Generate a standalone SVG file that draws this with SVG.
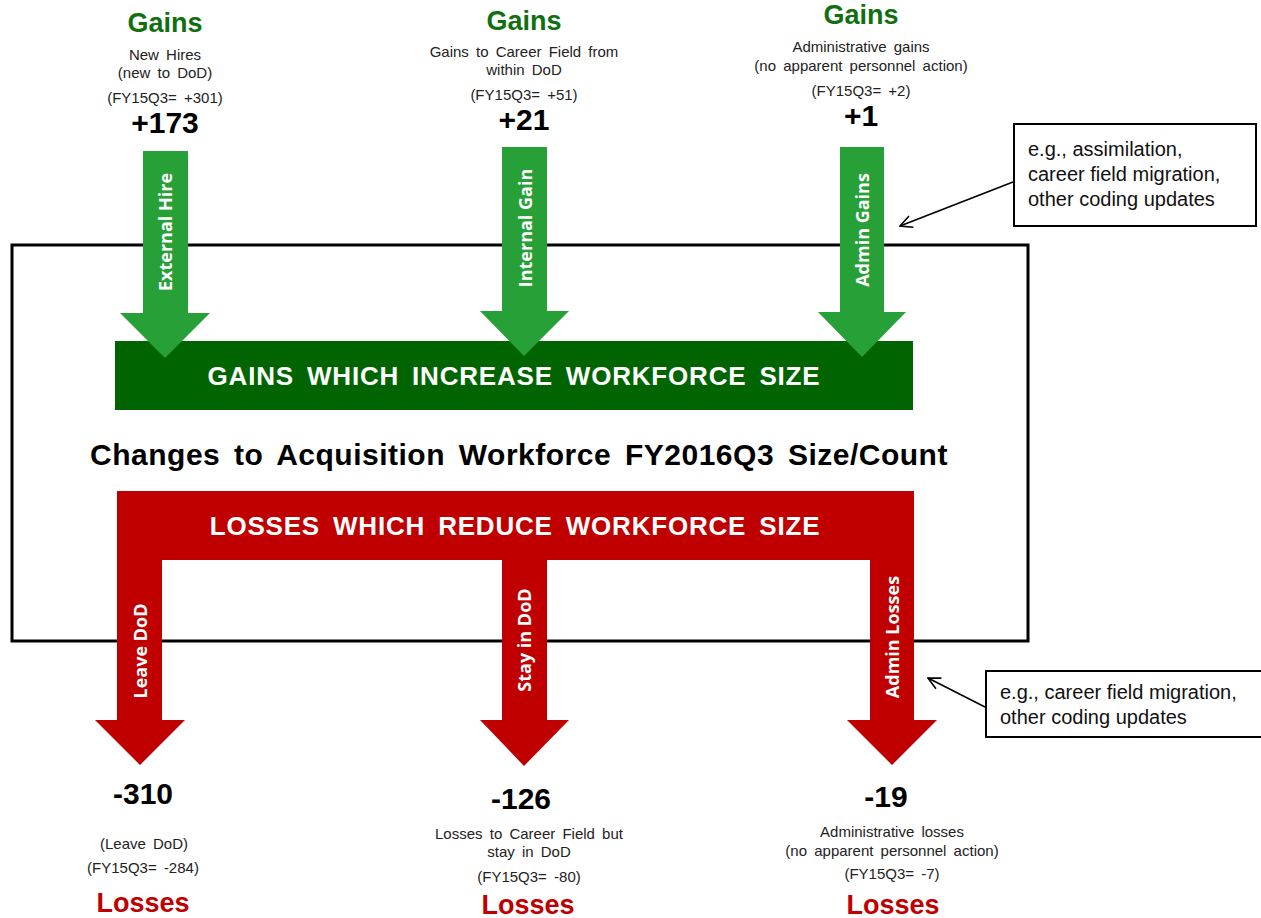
<svg xmlns="http://www.w3.org/2000/svg" width="1261" height="918" viewBox="0 0 1261 918">
<style>
.gh{font-family:"Liberation Sans",Arial,sans-serif;font-weight:bold;font-size:27px;fill:#107010;text-anchor:middle}
.lh{font-family:"Liberation Sans",Arial,sans-serif;font-weight:bold;font-size:27px;fill:#c00000;text-anchor:middle}
.sm{font-family:"Liberation Sans",Arial,sans-serif;font-size:15px;fill:#222;text-anchor:middle;word-spacing:3px}
.num{font-family:"Liberation Sans",Arial,sans-serif;font-weight:bold;font-size:30px;fill:#000;text-anchor:middle}
.lbl{font-family:"Open Sans","Liberation Sans",sans-serif;font-weight:bold;font-size:18px;fill:#fff;text-anchor:middle;dominant-baseline:central}
.bar{font-family:"Liberation Sans",Arial,sans-serif;font-weight:bold;font-size:26px;fill:#fff;text-anchor:middle;word-spacing:5px;letter-spacing:0.8px}
.co{font-family:"Liberation Sans",Arial,sans-serif;font-size:20px;fill:#111}
.ga{fill:#28a038}
.rd{fill:#c00000}
</style>
<defs>
<marker id="open" markerWidth="14" markerHeight="14" refX="13" refY="7" orient="auto" markerUnits="userSpaceOnUse">
<path d="M1,1 L13,7 L1,13" fill="none" stroke="#000" stroke-width="1.6"/>
</marker>
</defs>
<rect width="1261" height="918" fill="#fff"/>
<g id="frame">
<rect x="12" y="245" width="1016" height="396" fill="none" stroke="#000" stroke-width="3"/>
</g>
<g id="gain-bar">
<rect x="115" y="341" width="798" height="69" fill="#006400"/>
<text class="bar" x="514" y="385">GAINS WHICH INCREASE WORKFORCE SIZE</text>
</g>
<g id="external-hire">
<polygon class="ga" points="143,151 188,151 188,313 210,313 165,358 120,313 143,313"/>
<text class="lbl" transform="translate(165,232) rotate(-90)">External Hire</text>
</g>
<g id="internal-gain">
<polygon class="ga" points="502,147 547,147 547,311 569,311 524,356 480,311 502,311"/>
<text class="lbl" transform="translate(525,228) rotate(-90)">Internal Gain</text>
</g>
<g id="admin-gains">
<polygon class="ga" points="840,147 884,147 884,312 906,312 862,357 818,312 840,312"/>
<text class="lbl" transform="translate(862,230) rotate(-90)">Admin Gains</text>
</g>
<g id="title">
<text x="519" y="465" style="font-family:'Liberation Sans',Arial,sans-serif;font-weight:bold;font-size:30px;fill:#000;text-anchor:middle;word-spacing:5px;letter-spacing:0.5px">Changes to Acquisition Workforce FY2016Q3 Size/Count</text>
</g>
<g id="loss-bar">
<path class="rd" d="M117,491 H914 V720 H937 L892,765 L847,720 H870 V560 H547 V720 H569 L524,766 L480,720 H502 V560 H162 V720 H185 L140,765 L95,720 H117 Z"/>
<text class="bar" x="515" y="535">LOSSES WHICH REDUCE WORKFORCE SIZE</text>
<text class="lbl" transform="translate(140,651) rotate(-90)">Leave DoD</text>
<text class="lbl" transform="translate(524,640) rotate(-90)">Stay in DoD</text>
<text class="lbl" transform="translate(892,637) rotate(-90)">Admin Losses</text>
</g>
<g id="gains-1">
<text class="gh" x="165" y="32">Gains</text>
<text class="sm" x="165" y="60">New Hires</text>
<text class="sm" x="165" y="78">(new to DoD)</text>
<text class="sm" x="165" y="103">(FY15Q3= +301)</text>
<text class="num" x="165" y="133">+173</text>
</g>
<g id="gains-2">
<text class="gh" x="524" y="30">Gains</text>
<text class="sm" x="524" y="57">Gains to Career Field from</text>
<text class="sm" x="524" y="75">within DoD</text>
<text class="sm" x="524" y="100">(FY15Q3= +51)</text>
<text class="num" x="524" y="130">+21</text>
</g>
<g id="gains-3">
<text class="gh" x="861" y="24">Gains</text>
<text class="sm" x="861" y="52">Administrative gains</text>
<text class="sm" x="861" y="71">(no apparent personnel action)</text>
<text class="sm" x="861" y="96">(FY15Q3= +2)</text>
<text class="num" x="861" y="126">+1</text>
</g>
<g id="losses-1">
<text class="num" x="143" y="804">-310</text>
<text class="sm" x="144" y="849">(Leave DoD)</text>
<text class="sm" x="143" y="873">(FY15Q3= -284)</text>
<text class="lh" x="143" y="912">Losses</text>
</g>
<g id="losses-2">
<text class="num" x="521" y="809">-126</text>
<text class="sm" x="529" y="839">Losses to Career Field but</text>
<text class="sm" x="529" y="857">stay in DoD</text>
<text class="sm" x="529" y="882">(FY15Q3= -80)</text>
<text class="lh" x="528" y="914">Losses</text>
</g>
<g id="losses-3">
<text class="num" x="886" y="807">-19</text>
<text class="sm" x="892" y="837">Administrative losses</text>
<text class="sm" x="892" y="856">(no apparent personnel action)</text>
<text class="sm" x="892" y="879">(FY15Q3= -7)</text>
<text class="lh" x="893" y="914">Losses</text>
</g>
<g id="note-gains">
<rect x="1014" y="124" width="242" height="102" fill="#fff" stroke="#000" stroke-width="2"/>
<text class="co" x="1028" y="156">e.g., assimilation,</text>
<text class="co" x="1028" y="181">career field migration,</text>
<text class="co" x="1028" y="206">other coding updates</text>
</g>
<g id="note-losses">
<rect x="986" y="671" width="280" height="66" fill="#fff" stroke="#000" stroke-width="2"/>
<text class="co" x="1000" y="699">e.g., career field migration,</text>
<text class="co" x="1000" y="724">other coding updates</text>
</g>
<g id="connectors">
<line x1="1013" y1="182" x2="900" y2="226" stroke="#000" stroke-width="1.6" marker-end="url(#open)"/>
<line x1="985" y1="707" x2="928" y2="678" stroke="#000" stroke-width="1.6" marker-end="url(#open)"/>
</g>
</svg>
